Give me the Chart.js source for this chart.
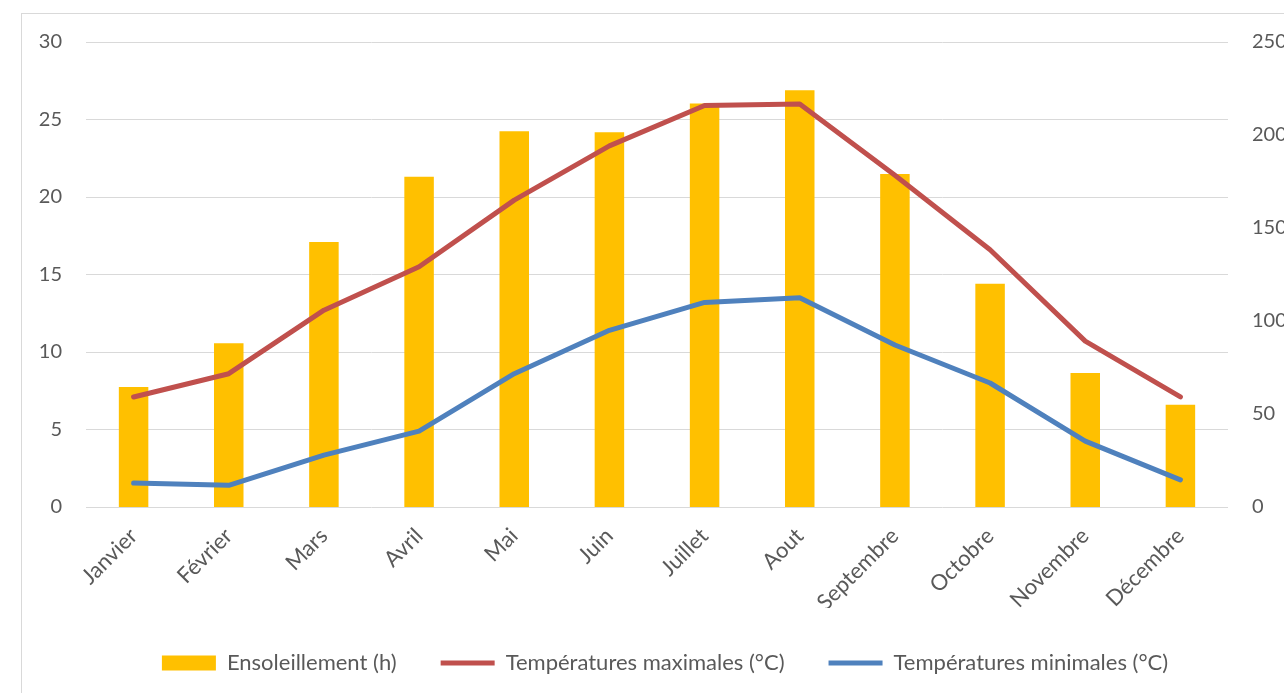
<!DOCTYPE html>
<html lang="fr">
<head>
<meta charset="utf-8">
<title>Ensoleillement et températures</title>
<script src="https://cdn.jsdelivr.net/npm/chart.js@4.4.1/dist/chart.umd.min.js"></script>
<style>
  html, body { margin: 0; padding: 0; background: #fff; overflow: hidden; }
  #frame {
    position: absolute; left: 21px; top: 13px;
    width: 1400px; height: 800px;
    border-left: 1px solid #d9d9d9; border-top: 1px solid #d9d9d9;
  }
  #wrap { position: absolute; left: 0; top: 0; width: 1330px; height: 720px; }
</style>
</head>
<body>
<div id="frame"></div>
<div id="wrap"><canvas id="meteoChart"></canvas></div>
<script>
// Données
const mois = ["Janvier", "Février", "Mars", "Avril", "Mai", "Juin", "Juillet", "Aout", "Septembre", "Octobre", "Novembre", "Décembre"];
const ensoleillement = [64.5, 88, 142.5, 177.5, 202, 201.5, 217, 224, 179, 120, 72, 55];
const tempMax = [7.1, 8.6, 12.7, 15.5, 19.8, 23.3, 25.9, 26.0, 21.4, 16.6, 10.7, 7.1];
const tempMin = [1.55, 1.4, 3.35, 4.9, 8.6, 11.4, 13.2, 13.5, 10.45, 8.0, 4.25, 1.75];

const gris = "#595959";
const police = "Lato, 'Open Sans', sans-serif";

const ctx = document.getElementById("meteoChart").getContext("2d");

new Chart(ctx, {
    data: {
        labels: mois,
        datasets: [
            {
                type: "line",
                label: "Températures maximales (°C)",
                data: tempMax,
                yAxisID: "y",
                borderColor: "#C0504D",
                backgroundColor: "#C0504D",
                borderWidth: 5,
                borderCapStyle: "round",
                borderJoinStyle: "round",
                pointRadius: 0,
                pointStyle: "line",
                tension: 0,
                order: 0
            },
            {
                type: "line",
                label: "Températures minimales (°C)",
                data: tempMin,
                yAxisID: "y",
                borderColor: "#4F81BD",
                backgroundColor: "#4F81BD",
                borderWidth: 5,
                borderCapStyle: "round",
                borderJoinStyle: "round",
                pointRadius: 0,
                pointStyle: "line",
                tension: 0,
                order: 1
            },
            {
                type: "bar",
                label: "Ensoleillement (h)",
                data: ensoleillement,
                yAxisID: "y1",
                backgroundColor: "#FFC000",
                borderWidth: 0,
                pointStyle: "rect",
                barPercentage: 0.31,
                categoryPercentage: 1,
                order: 2
            }
        ]
    },
    options: {
        responsive: true,
        maintainAspectRatio: false,
        animation: false,
        layout: { padding: { left: 0, right: 0, top: 42, bottom: 36 } },
        plugins: {
            tooltip: { enabled: false },
            legend: {
                position: "bottom",
                labels: {
                    usePointStyle: true,
                    pointStyleWidth: 54,
                    boxHeight: 15,
                    padding: 44,
                    color: gris,
                    font: { family: police, size: 22 },
                    sort: (a, b) => b.datasetIndex === 2 ? 1 : (a.datasetIndex === 2 ? -1 : a.datasetIndex - b.datasetIndex)
                }
            }
        },
        scales: {
            x: {
                grid: { display: false },
                border: { display: false },
                ticks: {
                    color: gris,
                    font: { family: police, size: 22 },
                    minRotation: 45,
                    maxRotation: 45,
                    padding: 8
                },
                afterFit: s => { s.height = 101; }
            },
            y: {
                position: "left",
                min: 0,
                max: 30,
                ticks: { stepSize: 5, color: gris, font: { family: police, size: 20 }, padding: 24 },
                grid: { color: "#d9d9d9", lineWidth: 1, drawTicks: false },
                border: { display: false },
                afterFit: s => { s.width = 86; }
            },
            y1: {
                position: "right",
                min: 0,
                max: 250,
                ticks: { stepSize: 50, color: gris, font: { family: police, size: 20 }, padding: 24 },
                grid: { display: false, drawTicks: false },
                border: { display: false },
                afterFit: s => { s.width = 102; }
            }
        }
    }
});
</script>
</body>
</html>
